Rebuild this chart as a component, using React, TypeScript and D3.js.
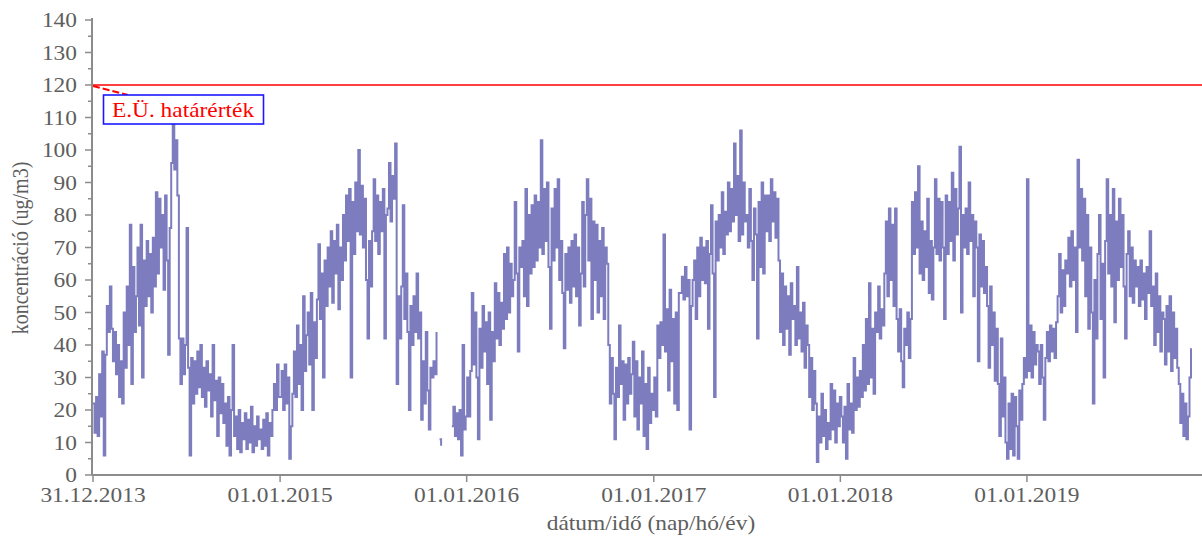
import React from "react";
import * as d3 from "d3";

// ---- data (3-day samples) ----
const START = Date.UTC(2013, 11, 31);
const STEP_DAYS = 3;
const CHUNK_DAYS = 366;

const y2014: (number | null)[] = [22,13,24,12,31,18,38, 6, 37,52,44,58, 45,35,44,31,40,24,35,22, 50, 33,58,40,77,28,64,44, 55,70,46,77,30,66,52, 72,55,68,50,73,58,87, 62,85,70,80,57,86,66, 37,76, 96,108,94,103,86,42, 28,42,31,40,76,33, 6,36,22,35,25,38, 27,40,24,33,21,35,26, 31,18,40,23,29,12,30,19,28,16, 22,9,24,6,20,40,12, 18,8,20,7,16,11,19,8,17,10,21,7,15,9,18,11,14,8, 17,9,19,6,16,12,20, 28,20,34,24];
const y2015: (number | null)[] = [24,32,20,34,22,30, 5, 15,25, 38,24,46,28,40,20,55,32,43, 50,34,56,20,47,36,54, 71,48,62,30,66,52,70, 58,75,53,72,62,77,51,70,60, 80,66,86,72,88,30,84,68,90,75,100, 74,89,70,85, 60,42,72,58,75,91, 72,86,68,84,75,88,42,80, 82,96,78,92,85,102, 28,55,42,58, 83,48,62,44, 20, 52,40,55,44,62,42,50, 17, 35,22,44,26,14,33, 30,35,31,44, null, 11,9, null,null,null,null,null,null, 15,21,12,19,11,20,6,40,14,18];
const y2016: (number | null)[] = [30,18,32, 56,34,50,30, 11, 45,33,52,38,47, 28,50,17,44,35,59, 42,56,40,53,45,68,48, 70,50,65,55,60, 84,62,38,70,64,72,55, 88,52,80,62,83,64, 86,66,84,70,103,68,88,72, 90,64,45,82,66,88,70,91, 60,72,56,39,68,57,70, 53,72,58,74,55,70,46, 62,84,58,80,91,66,85,48,78,60, 77,50,72,55,76,48,70, 65,40,22,36,25,11, 33,24,46,28,35,17,34,22,36,25,31, 41,18,35,14,30,22,38,12,28,8,33,16,25,20];
const y2017: (number | null)[] = [30,18, 46,36,47,40, 74, 38,51,26,57,35,48,22, 50,20,56, 56,61,54,64,55,60, 14, 52,60, 66,48,70,55,73,60, 70,59,72,45,68,83, 62,24, 78,66,80,70,87,68,81,74, 90,75,88,78,102,80, 92,72,106,74,90,78, 80,70,88,72,60,82,74, 42,84,64,90,62,86, 75,86,72,91,78,87,73,85, 66,44,62,40, 58,45,55,37,59,48, 52,40,64,42,50,38,53,33,46, 40,24,36,20,32,22, 4,18,10,25,12,20,8,16,11, 28,14,26,10,22,15,24];
const y2018: (number | null)[] = [18,10,21,5, 28,14,22,13,36,20, 30,21,32,24,40,26, 48,28,59,30,45,25,50, 44,58,42,51,46, 62,78,55,82,60,77,52,82, 48,38,51,35,27,45, 40,50,36,48, 84,68,87,70,95, 62,78,60,75,64,85, 56,72,54,70, 91,68,85,66,84,70,48, 86,68,84,72,93,66,88,74, 82,101,50,80, 70,82,68,90,72,80,55,78,70, 35,74,58,72,56,64, 52,33,58,40,50,29,45, 28,12,42,18,30,10, 5,22,8,25,6,24,15, 5,26,17,28,36,30,91];
const y2019: (number | null)[] = [32,46,30,44,34,40, 38,28,40,30,17,36, 44,35,46,38,45,36,47, 55,68,50,63,52,66, 62,73,58,75,60,70,44, 97,70,88,66,85, 55,80,45,70,50,22, 60,42,68,80,48,65,30, 72,91,62,80,58,88,47,78,60,85,64,80,58, 42,68,75,55,70,53,66,58,64, 52,66,54,62,48,64,56,75,52, 58,40,62,44,55,38,50, 48,34,52,38,55,32,50,36,45,33, 28,16,25,12,22,11,18,30,39];

const chunks = [y2014, y2015, y2016, y2017, y2018, y2019];

const xTickDates = [
  Date.UTC(2013, 11, 31),
  Date.UTC(2015, 0, 1),
  Date.UTC(2016, 0, 1),
  Date.UTC(2017, 0, 1),
  Date.UTC(2018, 0, 1),
  Date.UTC(2019, 0, 1),
];
const xTickLabels = ["31.12.2013", "01.01.2015", "01.01.2016", "01.01.2017", "01.01.2018", "01.01.2019"];
const yMajorTicks = [0, 10, 20, 30, 40, 50, 60, 70, 80, 90, 100, 110, 120, 130, 140];
const yMinorTicks = [5, 15, 25, 35, 45, 55, 65, 75, 85, 95, 105, 115, 125, 135];
const LIMIT = 120;
const LIMIT_LABEL = "E.Ü. határérték";
const X_TITLE = "dátum/idő (nap/hó/év)";
const Y_TITLE = "koncentráció (ug/m3)";

type Pt = { date: Date; v: number | null };

const DAY = 86400000;
const points: Pt[] = [];
chunks.forEach((arr, k) => {
  arr.forEach((v, i) => {
    points.push({ date: new Date(START + (k * CHUNK_DAYS + i * STEP_DAYS) * DAY), v });
  });
});

const FONT = "'Liberation Serif', 'Times New Roman', serif";
const SX = 1.17;
const TXT = "#5e5e5e";
const AXIS = "#8c8c8c";

function T(props: { x: number; y: number; anchor?: string; fill?: string; rot?: boolean; children: React.ReactNode }) {
  const { x, y, anchor = "middle", fill = TXT, rot = false, children } = props;
  const tr = rot ? `translate(${x},${y}) rotate(-90) scale(1,${SX})` : `translate(${x},${y}) scale(${SX},1)`;
  return (
    <text transform={tr} textAnchor={anchor as any} fill={fill} fontFamily={FONT} fontSize={20}>
      {children}
    </text>
  );
}

export default function App() {
  const x = d3.scaleUtc().domain([new Date(Date.UTC(2013, 11, 31)), new Date(Date.UTC(2019, 11, 31))]).range([93, 1213]);
  const y = d3.scaleLinear().domain([0, 140]).range([475, 20]);
  const x0 = 92;
  const line = d3
    .line<Pt>()
    .defined((d) => d.v != null)
    .curve(d3.curveStepAfter)
    .x((d) => x(d.date))
    .y((d) => y(d.v as number));
  const path = line(points) || "";
  const yl = y(LIMIT);

  return (
    <svg width={1202} height={538} style={{ position: "absolute", left: 0, top: 0, background: "#fff" }}>
      <rect x={0} y={0} width={1202} height={538} fill="#fff" />
      {/* data */}
      <path d={path} fill="none" stroke="#7c7cbf" strokeWidth={2} strokeLinejoin="miter" />
      {/* limit line */}
      <line x1={x0} x2={1202} y1={yl} y2={yl} stroke="#ff0000" strokeWidth={1.6} />
      <line x1={x0 + 1} y1={yl + 1} x2={128} y2={95} stroke="#ff0000" strokeWidth={2} strokeDasharray="7,3" />
      <rect x={103.5} y={95} width={160} height={29} fill="#fff" stroke="#1a1aff" strokeWidth={1.6} />
      <T x={183} y={117} fill="#ff0000">{LIMIT_LABEL}</T>
      {/* axes */}
      <line x1={x0} x2={x0} y1={y(140) - 2} y2={y(0)} stroke={AXIS} strokeWidth={2} />
      <line x1={x0} x2={1202} y1={y(0)} y2={y(0)} stroke={AXIS} strokeWidth={2} />
      {yMajorTicks.map((t) => (
        <g key={"M" + t}>
          <line x1={x0 - 7} x2={x0} y1={y(t)} y2={y(t)} stroke={AXIS} strokeWidth={1.5} />
          <T x={77} y={y(t) + 7} anchor="end">{String(t)}</T>
        </g>
      ))}
      {yMinorTicks.map((t) => (
        <line key={"m" + t} x1={x0 - 4} x2={x0} y1={y(t)} y2={y(t)} stroke={AXIS} strokeWidth={1.5} />
      ))}
      {xTickDates.map((d, i) => (
        <g key={"x" + i}>
          <line x1={x(new Date(d))} x2={x(new Date(d))} y1={y(0)} y2={y(0) + 7} stroke={AXIS} strokeWidth={1.5} />
          <T x={x(new Date(d))} y={502}>{xTickLabels[i]}</T>
        </g>
      ))}
      <T x={651} y={530}>{X_TITLE}</T>
      <T x={28} y={248} rot>{Y_TITLE}</T>
    </svg>
  );
}
